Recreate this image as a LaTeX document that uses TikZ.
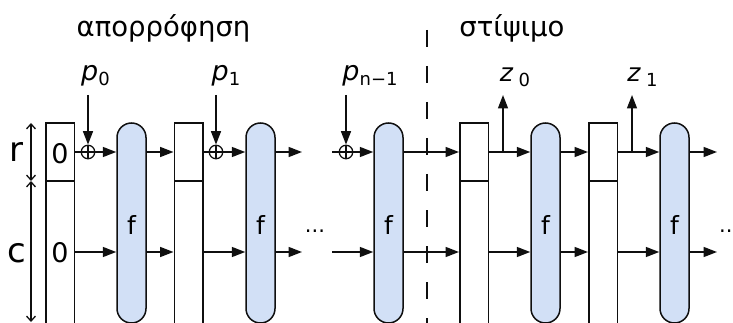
\documentclass[tikz,border=0pt]{standalone}
\usepackage{fontspec}
\setmainfont{DejaVu Sans}
\usetikzlibrary{arrows.meta}
\definecolor{fblue}{RGB}{210,224,246}
\definecolor{ink}{RGB}{15,15,15}
\tikzset{
  ln/.style={line width=1.6pt, draw=ink},
  arr/.style={ln, -{Triangle[length=13.5pt,width=10pt]}},
  dimarr/.style={line width=1.3pt, draw=ink, {Straight Barb[length=5pt,width=9pt]}-{Straight Barb[length=5pt,width=9pt]}},
  topbox/.style={draw=ink, line width=1.5pt, fill=white, minimum width=28.5pt, minimum height=58pt, inner sep=0pt},
  lowbox/.style={draw=ink, line width=1.5pt, fill=white, minimum width=28.5pt, minimum height=200pt, inner sep=0pt, anchor=north},
  fpill/.style={draw=ink, line width=1.5pt, fill=fblue, rounded corners=14.5pt, minimum width=29pt, minimum height=200pt, inner sep=0pt},
  xorc/.style={circle, draw=ink, line width=1.3pt, minimum size=13.5pt, inner sep=0pt,
    path picture={\draw[line width=1.3pt,ink] (path picture bounding box.north) -- (path picture bounding box.south)
      (path picture bounding box.west) -- (path picture bounding box.east);}},
  ttl/.style={font=\fontsize{27.5}{30}\selectfont, anchor=base, inner sep=0pt},
  lbl/.style={anchor=base, inner sep=0pt},
  big/.style={font=\fontsize{34}{36}\selectfont, anchor=base, inner sep=0pt},
  zero/.style={font=\fontsize{27}{29}\selectfont, anchor=base, inner sep=0pt},
  flbl/.style={font=\fontsize{25}{27}\selectfont, anchor=base, inner sep=0pt},
  dots/.style={font=\fontsize{21}{22}\selectfont, anchor=base, inner sep=0pt}
}
\newcommand{\plbl}[2]{\fontsize{27}{29}\selectfont\textit{#1}\raisebox{-4.5pt}{\fontsize{18}{19}\selectfont #2}}
\newcommand{\zlbl}[2]{\fontsize{25}{27}\selectfont\textit{#1}\hspace{5pt}\raisebox{-5pt}{\fontsize{18}{19}\selectfont #2}}
\begin{document}
\begin{tikzpicture}[x=1pt,y=-1pt]
\useasboundingbox (0,0) rectangle (733,323);
\clip (0,0) rectangle (733,323);

% titles
\node[ttl] (t1) at (163.5,37) {απορρόφηση};
\node[ttl] (t2) at (512,37) {στίψιμο};

% dashed separator
\coordinate (dt) at (427,30);
\coordinate (db) at (427,340);
\draw[ln, dash pattern=on 17pt off 19pt] (dt) -- (db);

% state boxes
\node[topbox] (b1r) at (60,152) {};
\node[lowbox] (b1c) at (60,181) {};
\node[topbox] (b2r) at (188.5,152) {};
\node[lowbox] (b2c) at (188.5,181) {};
\node[topbox] (b3r) at (474,152) {};
\node[lowbox] (b3c) at (474,181) {};
\node[topbox] (b4r) at (603,152) {};
\node[lowbox] (b4c) at (603,181) {};
\node[zero] (z1t) at (60,164) {0};
\node[zero] (z1c) at (60,262) {0};

% permutation pills
\node[fpill] (f1) at (131.5,223) {};
\node[fpill] (f2) at (260.5,223) {};
\node[fpill] (f3) at (388.5,223) {};
\node[fpill] (f4) at (545.5,223) {};
\node[fpill] (f5) at (674.5,223) {};
\foreach \n/\x in {1/131.5,2/260.5,3/388.5,4/545.5,5/674.5}
  \node[flbl] (fl\n) at (\x,234) {f};

% xors
\node[xorc] (x1) at (88,152) {};
\node[xorc] (x2) at (216,152) {};
\node[xorc] (x3) at (346,152) {};

% input labels
\node[lbl] (p0) at (95.5,81) {\plbl{p}{0}};
\node[lbl] (p1) at (226,81) {\plbl{p}{1}};
\node[lbl] (pn) at (370,81) {\plbl{p}{n−1}};
\coordinate (pa) at (0,95);
\draw[arr] (x1 |- pa) -- (x1.north);
\draw[arr] (x2 |- pa) -- (x2.north);
\draw[arr] (x3 |- pa) -- (x3.north);

% output labels
\node[lbl] (zo0) at (515,82) {\zlbl{z}{0}};
\node[lbl] (zo1) at (642.5,82) {\zlbl{z}{1}};
\coordinate (z0b) at (503,152);
\coordinate (z0t) at (503,95);
\coordinate (z1b) at (632,152);
\coordinate (z1t2) at (632,95);
\draw[arr] (z0b) -- (z0t);
\draw[arr] (z1b) -- (z1t2);

% rows
\coordinate (rr) at (0,152);
\coordinate (rc) at (0,252);
\coordinate (d1r) at (302,152);
\coordinate (d2r) at (332,152);
\coordinate (d1c) at (302,252);
\coordinate (d2c) at (332,252);
\coordinate (e1r) at (717,152);
\coordinate (e1c) at (717,252);

% r row
\draw[ln] (b1r.east) -- (x1.west);
\draw[arr] (x1.east) -- (f1.west |- rr);
\draw[arr] (f1.east |- rr) -- (b2r.west);
\draw[ln] (b2r.east) -- (x2.west);
\draw[arr] (x2.east) -- (f2.west |- rr);
\draw[arr] (f2.east |- rr) -- (d1r);
\draw[ln] (d2r) -- (x3.west);
\draw[arr] (x3.east) -- (f3.west |- rr);
\draw[arr] (f3.east |- rr) -- (b3r.west);
\draw[arr] (b3r.east) -- (f4.west |- rr);
\draw[arr] (f4.east |- rr) -- (b4r.west);
\draw[arr] (b4r.east) -- (f5.west |- rr);
\draw[arr] (f5.east |- rr) -- (e1r);

% c row
\draw[arr] (b1c.east |- rc) -- (f1.west |- rc);
\draw[arr] (f1.east |- rc) -- (b2c.west |- rc);
\draw[arr] (b2c.east |- rc) -- (f2.west |- rc);
\draw[arr] (f2.east |- rc) -- (d1c);
\draw[arr] (d2c) -- (f3.west |- rc);
\draw[arr] (f3.east |- rc) -- (b3c.west |- rc);
\draw[arr] (b3c.east |- rc) -- (f4.west |- rc);
\draw[arr] (f4.east |- rc) -- (b4c.west |- rc);
\draw[arr] (b4c.east |- rc) -- (f5.west |- rc);
\draw[arr] (f5.east |- rc) -- (e1c);

% ellipses
\node[dots] (el1) at (315,232) {...};
\node[dots, anchor=base west] (el2) at (719,232) {...};

% r / c dimension
\coordinate (rt) at (31,123);
\coordinate (rm) at (31,181);
\coordinate (rb) at (31,322);
\draw[dimarr] (rt) -- (rm);
\draw[dimarr] (rm) -- (rb);
\node[big] (rl) at (16,162) {r};
\node[big] (cl) at (17,262) {c};
\end{tikzpicture}
\end{document}
